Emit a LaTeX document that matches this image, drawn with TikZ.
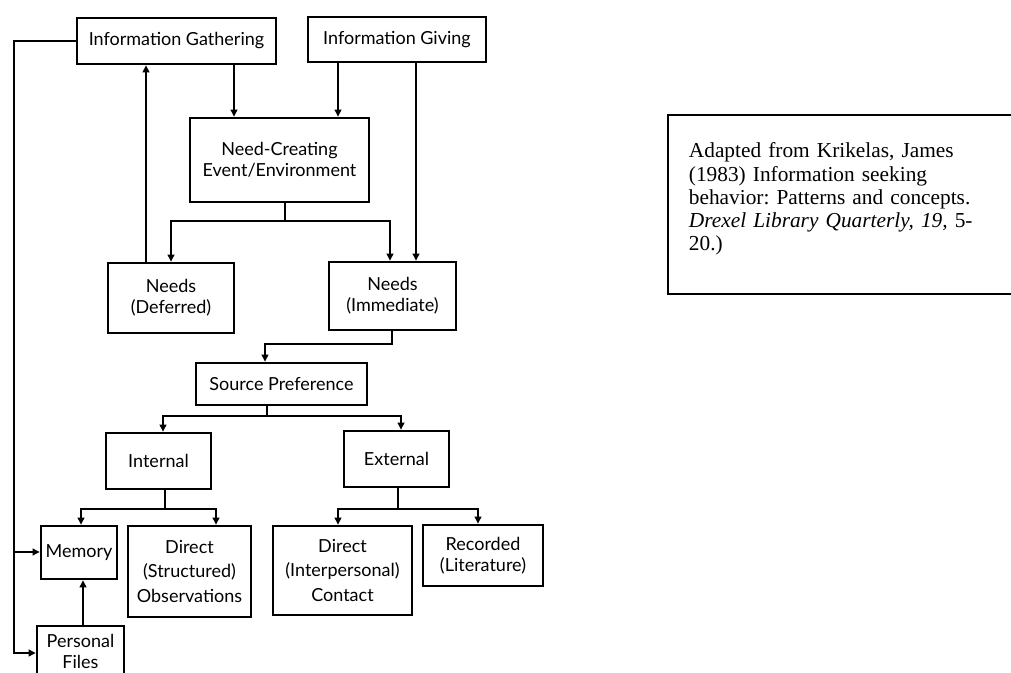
\documentclass[tikz,border=0pt]{standalone}
\usepackage{fontspec}
\setmainfont{Liberation Serif}
\newfontfamily\diafont{Lato}
\usetikzlibrary{arrows.meta}
\begin{document}
\begin{tikzpicture}[x=0.75pt,y=-0.75pt,
  box/.style={draw, line width=1.7pt, align=center, inner sep=0pt,
    font=\diafont\fontsize{13.5}{15.5}\selectfont},
  tall/.style={font=\diafont\fontsize{13.5}{18.4}\selectfont},
  conn/.style={line width=1.7pt},
  arr/.style={conn, -{Triangle[length=5.5pt,width=5pt]}},
  cite/.style={draw, line width=1.4pt, anchor=north west, align=left,
    text width=320pt, inner xsep=15.75pt, inner ysep=0pt,
    text height=32.25pt, text depth=102pt,
    font=\frenchspacing\fontsize{16}{17.4}\selectfont}]
\useasboundingbox (0,0) rectangle (1011,673);
\clip (0,0) rectangle (1011,673);
\fill[white] (0,0) rectangle (1011,673);

% nodes
\node[box, minimum width=149.25pt, minimum height=34.5pt] (ig) at (176.5,41) {Information Gathering};
\node[box, minimum width=133.5pt, minimum height=33.75pt] (igv) at (397,39.5) {Information Giving};
\node[box, minimum width=134.25pt, minimum height=63pt] (nce) at (279.5,160) {Need-Creating\\Event/Environment};
\node[box, minimum width=94.5pt, minimum height=52.5pt] (nd) at (171,298) {Needs\\(Deferred)};
\node[box, minimum width=95.25pt, minimum height=51pt] (ni) at (392.5,296) {Needs\\(Immediate)};
\node[box, minimum width=128.25pt, minimum height=31.5pt] (sp) at (281.5,384) {Source Preference};
\node[box, minimum width=78.75pt, minimum height=42pt] (int) at (158.5,461) {Internal};
\node[box, minimum width=78.75pt, minimum height=42pt] (ext) at (396.5,459) {External};
\node[box, minimum width=57pt, minimum height=39.75pt] (mem) at (79,552.5) {Memory};
\node[box, tall, minimum width=92.25pt, minimum height=68.25pt] (dso) at (189.5,571.5) {Direct\\(Structured)\\Observations};
\node[box, tall, minimum width=104.25pt, minimum height=66.75pt] (dic) at (342.5,570.5) {Direct\\(Interpersonal)\\Contact};
\node[box, minimum width=90pt, minimum height=45.75pt] (rec) at (483,555.5) {Recorded\\(Literature)};
\node[box, anchor=north, minimum width=65.25pt, inner ysep=6pt] (pf) at (80.5,625) {Personal\\Files};

\node[cite] (src) at (667,114) {Adapted from Krikelas, James\\(1983) Information seeking\\behavior: Patterns and concepts.\\\textit{Drexel Library Quarterly, 19,} 5-\\20.)};

% helper coordinates
\coordinate (L1) at (14,552);
\coordinate (L2) at (14,653);
\coordinate (x146) at (146,0);
\coordinate (x234) at (234,0);
\coordinate (x338) at (338,0);
\coordinate (x416) at (416,0);
\coordinate (x390) at (390,0);
\coordinate (x265) at (265,0);
\coordinate (x267) at (267,0);
\coordinate (x163) at (163,0);
\coordinate (x401) at (401,0);
\coordinate (x165) at (165,0);
\coordinate (x81) at (81,0);
\coordinate (x216) at (216,0);
\coordinate (x398) at (398,0);
\coordinate (x478) at (478,0);
\coordinate (x83) at (83,0);
\coordinate (x285) at (285,0);
\coordinate (x392) at (392,0);

% left feedback line
\draw[arr] (ig.west) -| (L2) -- (L2 -| pf.west);
\draw[arr] (L1) -- (L1 -| mem.west);

% top connections
\draw[arr] (nd.north -| x146) -- (ig.south -| x146);
\draw[arr] (ig.south -| x234) -- (nce.north -| x234);
\draw[arr] (igv.south -| x338) -- (nce.north -| x338);
\draw[arr] (igv.south -| x416) -- (ni.north -| x416);

% need-creating fork
\draw[arr] (nce.south -| x285) -- ++(0,18) -| (nd.north);
\draw[arr] (nce.south -| x285) -- ++(0,18) -| (ni.north -| x390);

% needs immediate to source preference
\draw[arr] (ni.south -| x392) -- ++(0,13) -| (sp.north -| x265);

% source preference fork
\draw[arr] (sp.south -| x267) -- ++(0,10) -| (int.north -| x163);
\draw[arr] (sp.south -| x267) -- ++(0,10) -| (ext.north -| x401);

% internal fork
\draw[arr] (int.south -| x165) -- ++(0,19) -| (mem.north -| x81);
\draw[arr] (int.south -| x165) -- ++(0,19) -| (dso.north -| x216);

% external fork
\draw[arr] (ext.south -| x398) -- ++(0,21) -| (dic.north -| x338);
\draw[arr] (ext.south -| x398) -- ++(0,21) -| (rec.north -| x478);

% personal files to memory
\draw[arr] (pf.north -| x83) -- (mem.south -| x83);
\end{tikzpicture}
\end{document}
